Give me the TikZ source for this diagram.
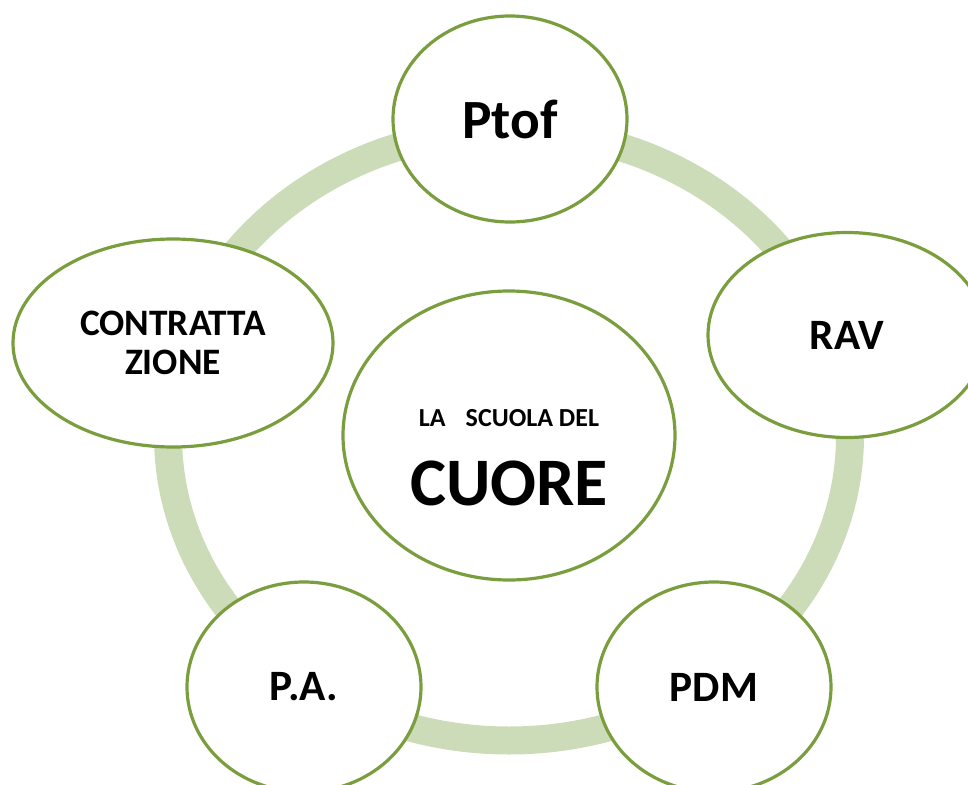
\documentclass[tikz,border=0pt]{standalone}
\usepackage{fontspec}
\setmainfont{Carlito}
\usepackage{tikz}
\usetikzlibrary{shapes.geometric}
\definecolor{edgegreen}{RGB}{122,158,62}
\definecolor{ringgreen}{RGB}{205,220,184}

\begin{document}
\begin{tikzpicture}[x=0.75pt,y=-0.75pt]
\tikzstyle{every node}+=[inner sep=0pt, font=\bfseries]
\tikzstyle{bubble}=[ellipse, draw=edgegreen, line width=2.4pt, fill=white]
\tikzstyle{ring}=[draw=ringgreen, line width=21pt]
\useasboundingbox (0,0) rectangle (968,785);
\clip (0,0) rectangle (968,785);
\draw (509,435.5) node [bubble, minimum width=249pt, minimum height=216.75pt] (cuore) {};
\draw [ring] (cuore.center) ellipse [x radius=341, y radius=305];
\draw (cuore.center) ++(0,-9.5) node [anchor=base, font=\bfseries\fontsize{19.5}{22}\selectfont] (titolo) {LA\hspace{15pt}SCUOLA DEL};
\draw (cuore.center) ++(0,69.5) node [anchor=base, font=\bfseries\fontsize{51}{58}\selectfont] (cuoretxt) {CUORE};
\draw (510,119) node [bubble, minimum width=175.5pt, minimum height=154.5pt, font=\bfseries\fontsize{41.5}{46}\selectfont] (ptof) {Ptof};
\draw (847,335) node [bubble, minimum width=208.5pt, minimum height=153.75pt, font=\bfseries\fontsize{32.5}{38}\selectfont] (rav) {RAV};
\draw (714,687) node [bubble, minimum width=175.5pt, minimum height=157.5pt, font=\bfseries\fontsize{32.5}{38}\selectfont] (pdm) {PDM};
\draw (304,687) node [bubble, minimum width=175.5pt, minimum height=157.5pt, font=\bfseries\fontsize{32.5}{38}\selectfont] (pa) {P.A.};
\draw (173,343) node [bubble, minimum width=240pt, minimum height=156pt, align=center, font=\bfseries\fontsize{28}{29.25}\selectfont] (contr) {CONTRATTA\\ZIONE};
\end{tikzpicture}
\end{document}
